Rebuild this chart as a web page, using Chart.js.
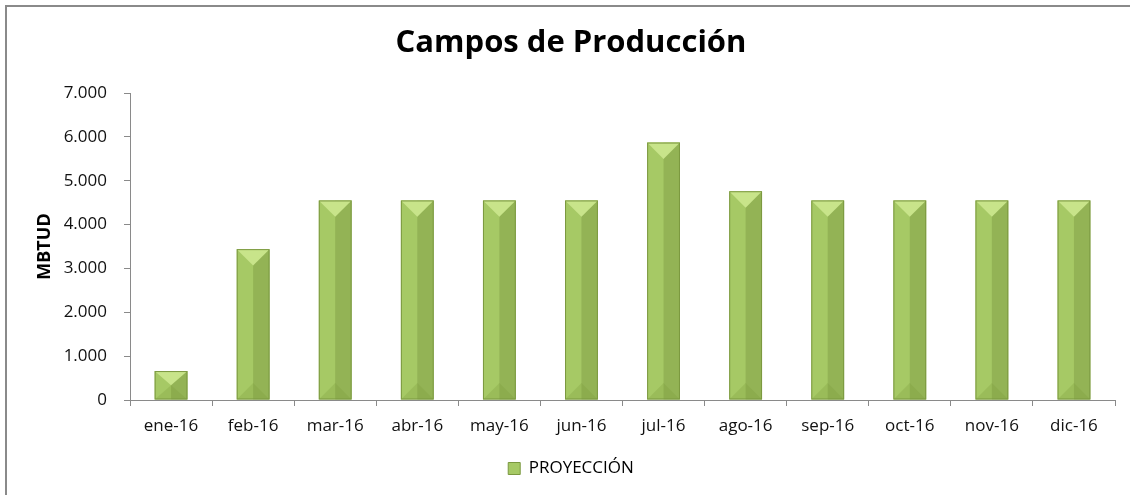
<!DOCTYPE html>
<html>
<head>
<meta charset="utf-8">
<script src="https://cdn.jsdelivr.net/npm/chart.js@4"></script>
<style>
  html, body { margin: 0; padding: 0; background: #fff; overflow: hidden; }
  body { width: 1130px; height: 495px; position: relative; }
  #frame {
    position: absolute; left: 5px; top: 5px; width: 1130px; height: 495px;
    border-left: 2px solid #8a8a8a; border-top: 2px solid #8a8a8a;
  }
  #wrap { position: absolute; left: 0; top: 0; width: 1130px; height: 495px; }
</style>
</head>
<body>
<div id="frame"></div>
<div id="wrap"><canvas id="chart"></canvas></div>
<script>
// ---- datos ----
const months = ["ene-16", "feb-16", "mar-16", "abr-16", "may-16", "jun-16",
                "jul-16", "ago-16", "sep-16", "oct-16", "nov-16", "dic-16"];
const proyeccion = [660, 3440, 4550, 4550, 4550, 4550, 5870, 4760, 4550, 4550, 4550, 4550];
const yTickValues = [0, 1000, 2000, 3000, 4000, 5000, 6000, 7000];
const yTickLabels = ["0", "1.000", "2.000", "3.000", "4.000", "5.000", "6.000", "7.000"];

const FONT = "'Open Sans', 'DejaVu Sans', sans-serif";

// bisel de las barras (estilo Excel)
const bevelPlugin = {
  id: "bevel",
  afterDatasetsDraw(chart) {
    const ctx = chart.ctx;
    chart.getDatasetMeta(0).data.forEach(bar => {
      const { x, y, base, width } = bar.getProps(["x", "y", "base", "width"], true);
      const l = x - width / 2, r = x + width / 2;
      const h = base - y;
      const d = Math.min(width / 2, h / 2);
      ctx.save();
      // mitad derecha más oscura
      ctx.fillStyle = "rgba(90,115,40,0.25)";
      ctx.fillRect(x, y, r - x, h);
      // triángulo superior claro
      ctx.beginPath();
      ctx.moveTo(l, y); ctx.lineTo(r, y); ctx.lineTo(x, y + d); ctx.closePath();
      ctx.fillStyle = "#c8e48a";
      ctx.fill();
      // triángulo inferior
      ctx.beginPath();
      ctx.moveTo(l, base); ctx.lineTo(r, base); ctx.lineTo(x, base - d); ctx.closePath();
      ctx.fillStyle = "rgba(120,150,55,0.25)";
      ctx.fill();
      // borde
      ctx.strokeStyle = "#7b9840";
      ctx.lineWidth = 1;
      ctx.strokeRect(l + 0.5, y + 0.5, width - 1, h - 1);
      ctx.restore();
    });
  }
};

new Chart(document.getElementById("chart"), {
  type: "bar",
  data: {
    labels: months,
    datasets: [{
      label: "PROYECCIÓN",
      data: proyeccion,
      backgroundColor: "#a6c965",
      borderWidth: 0,
      categoryPercentage: 0.4,
      barPercentage: 1.0
    }]
  },
  options: {
    responsive: true,
    maintainAspectRatio: false,
    animation: false,
    layout: { padding: { left: 27, right: 15, top: 0, bottom: 8 } },
    plugins: {
      tooltip: { enabled: false },
      title: {
        display: true,
        text: "Campos de Producción",
        color: "#000",
        font: { family: FONT, size: 31, weight: "bold" },
        padding: { top: 25, bottom: 30.8 }
      },
      legend: {
        position: "bottom",
        labels: {
          color: "#000",
          font: { family: FONT, size: 17 },
          boxWidth: 12,
          boxHeight: 12,
          padding: 10,
          generateLabels: () => [{
            text: "PROYECCIÓN",
            fillStyle: "#a6c965",
            strokeStyle: "#7b9840",
            lineWidth: 1,
            fontColor: "#000"
          }]
        }
      }
    },
    scales: {
      x: {
        offset: true,
        grid: {
          offset: true,
          drawOnChartArea: false,
          color: "#8a8a8a",
          tickLength: 6
        },
        border: { color: "#8a8a8a" },
        ticks: {
          color: "#111",
          font: { family: FONT, size: 17 },
          padding: 10,
          maxRotation: 0
        },
        afterFit: s => { s.height = 50; }
      },
      y: {
        min: 0,
        max: 7000,
        afterBuildTicks: s => { s.ticks = yTickValues.map(v => ({ value: v })); },
        grid: {
          drawOnChartArea: false,
          color: "#8a8a8a",
          tickLength: 6
        },
        border: { color: "#8a8a8a" },
        ticks: {
          color: "#111",
          font: { family: FONT, size: 17 },
          padding: 17,
          callback: (v, i) => yTickLabels[i]
        },
        title: {
          display: true,
          text: "MBTUD",
          color: "#000",
          font: { family: FONT, size: 18, weight: "bold" },
          padding: { top: 7, bottom: 0 }
        },
        afterFit: s => { s.width = 103; }
      }
    }
  },
  plugins: [bevelPlugin]
});
</script>
</body>
</html>
